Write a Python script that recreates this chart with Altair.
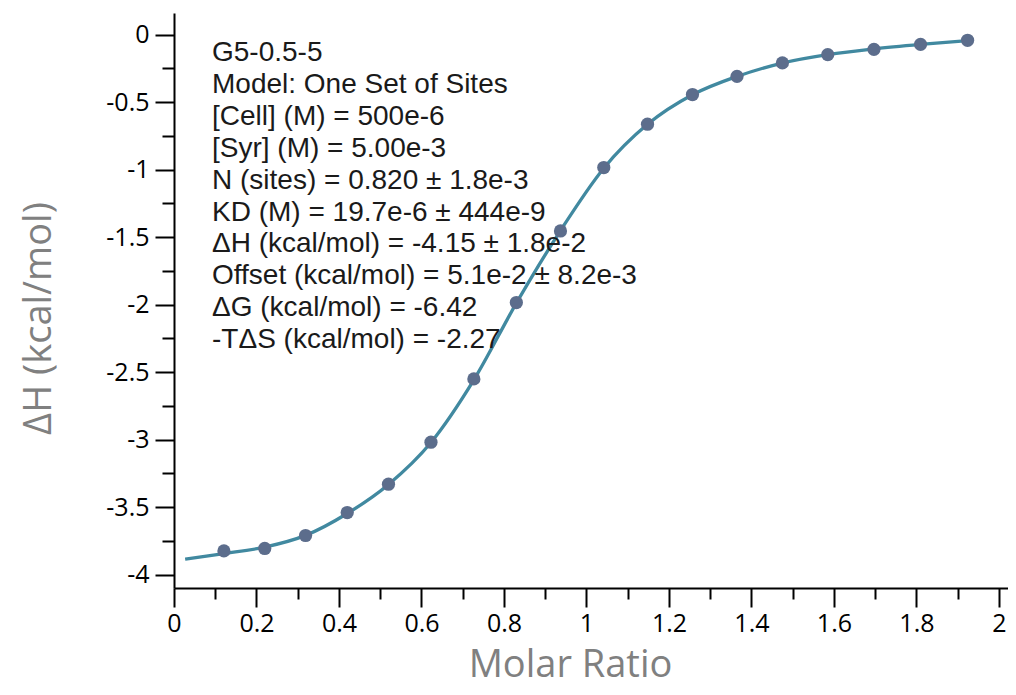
import altair as alt
import pandas as pd

# measured data points (molar ratio, ΔH kcal/mol)
pt_x = [0.121, 0.220, 0.319, 0.420, 0.520, 0.623, 0.727, 0.830, 0.937, 1.042,
        1.148, 1.257, 1.365, 1.475, 1.585, 1.697, 1.810, 1.924]
pt_y = [-3.825, -3.807, -3.711, -3.541, -3.331, -3.020, -2.551, -1.985, -1.455, -0.985,
        -0.664, -0.444, -0.309, -0.210, -0.148, -0.109, -0.072, -0.042]

# fitted curve
fit_x = [0.027, 0.121, 0.220, 0.319, 0.420, 0.520, 0.623, 0.727, 0.830, 0.937,
         1.042, 1.148, 1.257, 1.365, 1.475, 1.585, 1.697, 1.810, 1.924]
fit_y = [-3.886, -3.845, -3.797, -3.710, -3.548, -3.333, -3.022, -2.558, -1.990, -1.452,
         -0.990, -0.665, -0.446, -0.310, -0.211, -0.149, -0.106, -0.073, -0.045]

annotation = [
    "G5-0.5-5",
    "Model: One Set of Sites",
    "[Cell] (M) = 500e-6",
    "[Syr] (M) = 5.00e-3",
    "N (sites) = 0.820 ± 1.8e-3",
    "KD (M) = 19.7e-6 ± 444e-9",
    "ΔH (kcal/mol) = -4.15 ± 1.8e-2",
    "Offset (kcal/mol) = 5.1e-2 ± 8.2e-3",
    "ΔG (kcal/mol) = -6.42",
    "-TΔS (kcal/mol) = -2.27",
]

x_ticks = [0, 0.1, 0.2, 0.3, 0.4, 0.5, 0.6, 0.7, 0.8, 0.9, 1, 1.1, 1.2, 1.3, 1.4,
           1.5, 1.6, 1.7, 1.8, 1.9, 2]
y_ticks = [0, -0.25, -0.5, -0.75, -1, -1.25, -1.5, -1.75, -2, -2.25, -2.5, -2.75,
           -3, -3.25, -3.5, -3.75, -4]

pts = pd.DataFrame({"x": pt_x, "y": pt_y})
fit = pd.DataFrame({"x": fit_x, "y": fit_y})

xscale = alt.Scale(domain=[0, 2.022], nice=False, zero=False)
yscale = alt.Scale(domain=[-4.1, 0.16], nice=False, zero=False)

common_axis = dict(
    grid=False,
    domainColor="black", domainWidth=2,
    tickColor="black", tickWidth=2,
    labelColor="black", labelFont="Open Sans", labelFontSize=25,
    titleFont="Open Sans", titleFontSize=38, titleColor="#808080",
    titleFontWeight="normal",
)

xaxis = alt.Axis(
    title="Molar Ratio", values=x_ticks,
    labelExpr="round(datum.value*10) % 2 === 0 ? '' + datum.value : ''",
    tickSize={"condition": {"test": "round(datum.value*10) % 2 !== 0", "value": 11}, "value": 19},
    labelPadding=4, labelFlush=False, labelOverlap=False,
    titleX=396, titleY=88, titleBaseline="alphabetic", titleAnchor="start", titleAlign="center",
    **common_axis,
)
yaxis = alt.Axis(
    title="ΔH (kcal/mol)", values=y_ticks,
    labelExpr="round(datum.value*4) % 2 === 0 ? '' + datum.value : ''",
    tickSize={"condition": {"test": "round(datum.value*4) % 2 !== 0", "value": 12}, "value": 19},
    labelPadding=6, labelFlush=False, labelOverlap=False,
    titleX=-124, titleY=305, titleAngle=270, titleBaseline="alphabetic",
    titleAnchor="start", titleAlign="center",
    **common_axis,
)

line = alt.Chart(fit).mark_line(interpolate="monotone", color="#4189A0", strokeWidth=3.3).encode(
    x=alt.X("x:Q", scale=xscale, axis=xaxis),
    y=alt.Y("y:Q", scale=yscale, axis=yaxis),
)
dots = alt.Chart(pts).mark_circle(size=175, color="#5C6D8C", opacity=1).encode(
    x=alt.X("x:Q", scale=xscale, axis=xaxis),
    y=alt.Y("y:Q", scale=yscale, axis=yaxis),
)
text = alt.Chart(pd.DataFrame({"t": [0]})).mark_text(
    align="left", baseline="alphabetic", font="Liberation Sans", fontSize=28,
    lineHeight=31.9, color="#1a1a1a",
).encode(
    x=alt.value(38), y=alt.value(48), text=alt.value(annotation),
)

chart = alt.layer(line, dots, text).properties(
    width=834, height=575,
    autosize=alt.AutoSizeParams(type="none"),
    padding={"left": 166, "top": 5, "right": 0, "bottom": 99},
).configure_view(stroke=None)

chart.save("out.html", embed_options={"renderer": "svg", "actions": False})
